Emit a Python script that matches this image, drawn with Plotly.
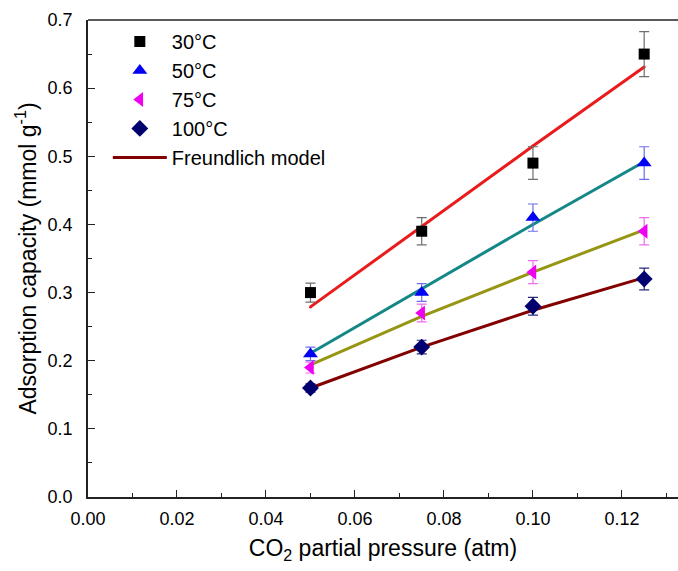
import plotly.graph_objects as go

pressure = [0.05, 0.075, 0.10, 0.125]

q_30 = [0.30, 0.39, 0.49, 0.65]
err_30 = [0.014, 0.02, 0.024, 0.033]
q_50 = [0.21, 0.30, 0.41, 0.49]
err_50 = [0.01, 0.013, 0.02, 0.024]
q_75 = [0.19, 0.27, 0.33, 0.39]
err_75 = [0.008, 0.013, 0.017, 0.02]
q_100 = [0.16, 0.22, 0.28, 0.32]
err_100 = [0.006, 0.01, 0.013, 0.016]

model_30 = [0.279, 0.397, 0.515, 0.631]
model_50 = [0.211, 0.305, 0.400, 0.492]
model_75 = [0.194, 0.265, 0.330, 0.392]
model_100 = [0.160, 0.220, 0.274, 0.322]

x_ticks = [0.00, 0.02, 0.04, 0.06, 0.08, 0.10, 0.12]
y_ticks = [0.0, 0.1, 0.2, 0.3, 0.4, 0.5, 0.6, 0.7]

FONT = "Arial, Liberation Sans, sans-serif"

fig = go.Figure()

# model lines
for vals, col, show in [
    (model_30, "rgb(232,28,28)", False),
    (model_50, "rgb(20,135,135)", False),
    (model_75, "rgb(150,150,20)", False),
    (model_100, "rgb(130,0,0)", True),
]:
    fig.add_trace(go.Scatter(
        x=pressure, y=vals, mode="lines+markers",
        line=dict(color=col, width=3),
        marker=dict(color=col, size=3),
        name="Freundlich model", showlegend=show, legendrank=5,
    ))

series = [
    ("30°C", q_30, err_30, "square", "black", "rgb(110,110,110)", 11),
    ("50°C", q_50, err_50, "triangle-up", "rgb(0,0,245)", "rgb(110,110,235)", 13),
    ("75°C", q_75, err_75, "triangle-left", "rgb(240,0,240)", "rgb(235,110,235)", 13),
    ("100°C", q_100, err_100, "diamond", "rgb(0,0,110)", "rgb(40,40,120)", 13),
]
for i, (name, vals, err, sym, col, ecol, sz) in enumerate(series):
    fig.add_trace(go.Scatter(
        x=pressure, y=vals, mode="markers", name=name,
        marker=dict(symbol=sym, color=col, size=sz),
        error_y=dict(type="data", array=err, visible=True, color=ecol,
                     thickness=1.2, width=5),
        legendrank=i + 1,
    ))

fig.update_layout(
    width=678, height=571,
    margin=dict(l=88, r=0, t=20, b=74),
    paper_bgcolor="white", plot_bgcolor="white",
    font=dict(family=FONT, size=18, color="black"),
    showlegend=True,
    legend=dict(
        x=0.0336, y=0.996, xanchor="left", yanchor="top",
        bgcolor="rgba(0,0,0,0)", font=dict(size=20),
        itemwidth=54, tracegroupgap=0,
    ),
    xaxis=dict(
        range=[0, 0.1326], tickvals=x_ticks, tickformat=".2f",
        ticks="inside", ticklen=7, tickwidth=1.3, tickcolor="#222",
        ticklabelstandoff=5, automargin=False,
        minor=dict(dtick=0.01, ticks="inside", ticklen=4, tickwidth=1.2, tickcolor="#222"),
        showline=True, linecolor="#222", linewidth=1.5,
        showgrid=False, zeroline=False,
        title=dict(text="CO<sub>2</sub> partial pressure (atm)", font=dict(size=23), standoff=12),
    ),
    yaxis=dict(
        range=[0, 0.7], tickvals=y_ticks, tickformat=".1f",
        ticks="inside", ticklen=7, tickwidth=1.3, tickcolor="#222",
        ticklabelstandoff=10, automargin=False,
        minor=dict(dtick=0.05, ticks="inside", ticklen=4, tickwidth=1.2, tickcolor="#222"),
        showline=True, linecolor="#222", linewidth=1.5,
        showgrid=False, zeroline=False,
        title=dict(text="Adsorption capacity (mmol g<sup>-1</sup>)", font=dict(size=23), standoff=5),
    ),
    shapes=[dict(type="line", xref="paper", yref="paper", x0=0, x1=1, y0=1, y1=1,
                 line=dict(color="#222", width=1.5))],
)

fig.write_html("out.html", config={"displayModeBar": False},
               post_script="document.body.style.margin='0';")
